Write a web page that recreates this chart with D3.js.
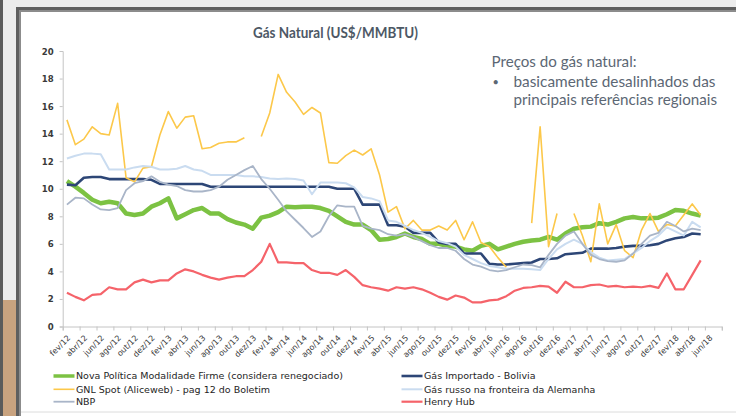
<!DOCTYPE html>
<html>
<head>
<meta charset="utf-8">
<script src="https://cdn.jsdelivr.net/npm/d3@7"></script>
<style>
  body { margin: 0; background: #ececec; }
  svg { display: block; }
</style>
</head>
<body>
<script>
const width = 736;
const height = 416;

// rótulos do eixo x (um a cada dois meses)
const tickLabels = [
    "fev/12", "abr/12", "jun/12", "ago/12", "out/12", "dez/12",
    "fev/13", "abr/13", "jun/13", "ago/13", "out/13", "dez/13",
    "fev/14", "abr/14", "jun/14", "ago/14", "out/14", "dez/14",
    "fev/15", "abr/15", "jun/15", "ago/15", "out/15", "dez/15",
    "fev/16", "abr/16", "jun/16", "ago/16", "out/16", "dez/16",
    "fev/17", "abr/17", "jun/17", "ago/17", "out/17", "dez/17",
    "fev/18", "abr/18", "jun/18"
];
const monthCount = 78; // fev/12 .. jul/18
const yTicks = [0, 2, 4, 6, 8, 10, 12, 14, 16, 18, 20];

// séries mensais a partir de fev/12 (US$/MMBTU)
const novaPolitica = [
    10.55, 10.15, 9.7, 9.2, 8.95, 9.05, 8.95, 8.2, 8.1, 8.2,
    8.7, 8.95, 9.3, 7.85, 8.15, 8.45, 8.6, 8.2, 8.2, 7.8,
    7.55, 7.4, 7.1, 7.9, 8.05, 8.3, 8.7, 8.65, 8.7, 8.7,
    8.6, 8.4, 8.0, 7.6, 7.4, 7.4, 7.0, 6.3, 6.35, 6.5,
    6.75, 6.5, 6.35, 6.0, 6.0, 5.85, 5.8, 5.6, 5.5, 5.85,
    6.0, 5.6, 5.8, 6.0, 6.15, 6.25, 6.3, 6.5, 6.3, 6.75,
    7.1, 7.2, 7.25, 7.5, 7.4, 7.6, 7.85, 7.95, 7.85, 7.85,
    7.9, 8.15, 8.45, 8.4, 8.2, 8.05
];
const gasBolivia = [
    10.3, 10.25, 10.8, 10.85, 10.85, 10.7, 10.7, 10.7, 10.7, 10.7,
    10.65, 10.35, 10.35, 10.35, 10.35, 10.35, 10.35, 10.15, 10.15, 10.15,
    10.15, 10.15, 10.15, 10.15, 10.15, 10.15, 10.15, 10.15, 10.15, 10.15,
    10.15, 10.15, 10.0, 10.0, 10.0, 8.85, 8.85, 8.85, 7.35, 7.35,
    7.25, 6.8, 6.8, 6.8, 6.1, 6.0, 6.0, 5.3, 5.3, 5.3,
    4.55, 4.5, 4.5, 4.55, 4.6, 4.65, 4.9, 4.9, 4.95, 5.25,
    5.3, 5.35, 5.65, 5.65, 5.65, 5.7, 5.8, 5.85, 5.85, 5.9,
    6.0, 6.25, 6.4, 6.5, 6.75, 6.7
];
const gnlSpot = [
    15.0, 13.2, 13.6, 14.5, 14.0, 13.9, 16.2, 10.8, 10.5, 11.5,
    11.6, 13.9, 15.6, 14.4, 15.2, 15.3, 12.9, 13.0, 13.3, 13.4,
    13.4, 13.7, null, 13.8, 15.5, 18.3, 17.0, 16.3, 15.4, 15.9,
    15.5, 11.9, 11.85, 12.4, 12.8, 12.45, 12.9, 11.0, 8.3, 8.7,
    7.1, 7.7, 7.0, 7.0, 7.3, 7.0, 7.7, 6.3, 7.6, 6.1,
    5.8, 5.0, 4.3, null, null, 7.5, 14.5, 5.8, 8.2, null,
    8.2, 6.6, 4.7, 8.9, 6.0, 7.4, 5.5, 5.0, 7.0, 8.2,
    6.9, 7.4, 7.3, 8.1, 8.9, 8.1
];
const gasRusso = [
    12.2, 12.4, 12.55, 12.55, 12.5, 11.4, 11.4, 11.4, 11.55, 11.65,
    11.6, 11.4, 11.4, 11.45, 11.65, 11.4, 11.3, 11.0, 11.0, 11.0,
    11.0, 10.9, 10.9, 10.85, 10.75, 10.7, 10.75, 10.7, 10.6, 9.6,
    10.45, 10.45, 10.45, 10.4, 10.1, 9.4, 9.3, 9.1, 7.7, 7.6,
    7.3, 7.0, 6.8, 6.5, 6.2, 6.05, 5.8, 5.2, 4.9, 4.6,
    4.4, 4.3, 4.2, 4.2, 4.2, 4.15, 4.1, 4.9, 5.6, 6.0,
    6.3, 6.0, 5.4, 5.0, 4.8, 4.85, 4.9, 5.3, 5.7, 6.2,
    6.6, 7.2, 6.9, 6.6, 7.6, 7.2
];
const nbp = [
    8.85, 9.35, 9.3, 8.85, 8.5, 8.45, 8.6, 9.9, 10.4, 10.55,
    10.9, 10.5, 10.3, 10.2, 9.9, 9.8, 9.8, 9.9, 10.15, 10.65,
    11.0, 11.35, 11.65, 10.7, 10.0, 9.2, 8.35, 7.75, 7.15, 6.5,
    6.9, 8.0, 8.8, 8.7, 8.7, 7.3, 7.1, 7.0, 6.7, 6.6,
    6.7, 6.5, 6.2, 5.9, 5.7, 5.7, 5.5, 4.9, 4.5, 4.35,
    4.1, 4.0, 4.1, 4.3, 4.5, 4.45, 4.3, 5.2, 6.0, 6.6,
    6.9, 6.0, 5.2, 4.9, 4.75, 4.7, 4.8, 5.3, 6.0, 6.6,
    6.8, 7.6, 7.3, 6.9, 7.1, 7.0
];
const henryHub = [
    2.45, 2.15, 1.9, 2.3, 2.35, 2.85, 2.7, 2.7, 3.2, 3.4,
    3.2, 3.35, 3.35, 3.85, 4.15, 4.0, 3.75, 3.55, 3.4, 3.55,
    3.65, 3.65, 4.1, 4.7, 6.0, 4.65, 4.65, 4.6, 4.6, 4.1,
    3.9, 3.9, 3.75, 4.1, 3.6, 3.0, 2.85, 2.75, 2.6, 2.85,
    2.75, 2.85, 2.7, 2.45, 2.15, 1.95, 2.25, 2.1, 1.75, 1.75,
    1.9, 1.95, 2.2, 2.6, 2.8, 2.85, 2.95, 2.9, 2.45, 3.25,
    2.85, 2.85, 3.0, 3.05, 2.9, 2.95, 2.85, 2.9, 2.85, 2.95,
    2.8, 3.85, 2.7, 2.7, 3.75, 4.8
];

// ordem do Excel (a última fica por cima)
const series = [
    { name: "Nova Política Modalidade Firme (considera renegociado)", values: novaPolitica, color: "#7cc243", w: 4.5, col: 0, row: 0 },
    { name: "Gás Importado - Bolivia", values: gasBolivia, color: "#2d4676", w: 2.6, col: 1, row: 0 },
    { name: "GNL Spot (Aliceweb) - pag 12 do Boletim", values: gnlSpot, color: "#fcc84a", w: 1.6, col: 0, row: 1 },
    { name: "Gás russo na fronteira da Alemanha", values: gasRusso, color: "#cadcf0", w: 2, col: 1, row: 1 },
    { name: "NBP", values: nbp, color: "#a9b5c8", w: 1.8, col: 0, row: 2 },
    { name: "Henry Hub", values: henryHub, color: "#f5636a", w: 2.2, col: 1, row: 2 }
];

let svg = d3.select("body").append("svg")
    .attr("width", width)
    .attr("height", height)

// moldura do slide / fundo da foto
svg.append("rect").attr("width", width).attr("height", height).attr("fill", "#ececec")
svg.append("rect").attr("x", 0).attr("y", 0).attr("width", 3).attr("height", height).attr("fill", "#5b5b5b")
svg.append("rect").attr("x", 3).attr("y", 300).attr("width", 13).attr("height", 116).attr("fill", "#c9a37f")
svg.append("rect").attr("x", 16).attr("y", 7).attr("width", width - 16).attr("height", height - 7).attr("fill", "#5f5f5f")
svg.append("rect").attr("x", 19).attr("y", 10).attr("width", width - 19).attr("height", height - 10).attr("fill", "#8c8c8c")
svg.append("rect").attr("x", 21).attr("y", 12).attr("width", width - 21).attr("height", height - 12).attr("fill", "#fff")
svg.append("line")
    .attr("x1", 21).attr("x2", width)
    .attr("y1", 412).attr("y2", 412)
    .attr("stroke", "#dcdcdc")

let x = d3.scaleLinear()
    .domain([0, monthCount])
    .range([62.7, 721.8]);

let y = d3.scaleLinear()
    .domain([0, 20])
    .range([326.5, 51]);

// título
svg.append("text")
    .attr("x", 335.5)
    .attr("y", 38)
    .attr("text-anchor", "middle")
    .attr("font-family", "Lato")
    .attr("font-weight", "bold")
    .attr("font-size", 16)
    .attr("fill", "#4d5865")
    .attr("textLength", 165)
    .attr("lengthAdjust", "spacingAndGlyphs")
    .text("Gás Natural (US$/MMBTU)")

// comentário
let note = svg.append("g")
    .attr("font-family", "Lato")
    .attr("font-size", 15)
    .attr("fill", "#5c6774")
note.append("text").attr("x", 491.5).attr("y", 66.5)
    .attr("textLength", 145).attr("lengthAdjust", "spacingAndGlyphs")
    .text("Preços do gás natural:")
note.append("text").attr("x", 492.5).attr("y", 85.5).attr("font-size", 11).text("•")
note.append("text").attr("x", 513.5).attr("y", 86.5)
    .attr("textLength", 202).attr("lengthAdjust", "spacingAndGlyphs")
    .text("basicamente desalinhados das")
note.append("text").attr("x", 513.5).attr("y", 105)
    .attr("textLength", 203.5).attr("lengthAdjust", "spacingAndGlyphs")
    .text("principais referências regionais")

// eixo y
let yAxis = svg.append("g")
    .attr("transform", "translate(" + x(0) + ",0)")
    .call(d3.axisLeft(y).tickValues(yTicks).tickSize(3).tickPadding(6))
yAxis.select(".domain").attr("stroke", "#c4c4c4")
yAxis.selectAll(".tick line").attr("stroke", "#c4c4c4")
yAxis.selectAll(".tick text")
    .attr("font-family", "DejaVu Sans Condensed")
    .attr("font-weight", "bold")
    .attr("font-size", 9.5)
    .attr("fill", "#3a3a3a")

// eixo x
let xAxis = svg.append("g")
    .attr("transform", "translate(0," + y(0) + ")")
    .call(d3.axisBottom(x).tickValues(d3.range(0, monthCount + 1, 2)).tickSize(4).tickFormat(""))
xAxis.select(".domain").attr("stroke", "#c4c4c4")
xAxis.selectAll(".tick line").attr("stroke", "#c4c4c4")

svg.append("g")
    .selectAll("text")
    .data(tickLabels)
    .enter()
    .append("text")
    .attr("transform", (d, i) => "translate(" + (x(i * 2 + 0.5) + 4) + "," + (y(0) + 12) + ")rotate(-45)")
    .attr("text-anchor", "end")
    .attr("font-family", "DejaVu Sans")
    .attr("font-size", 8)
    .attr("fill", "#3a3a3a")
    .text(d => d)

// linhas
let line = d3.line()
    .defined(d => d !== null)
    .x((d, i) => x(i + 0.5))
    .y(d => y(d))

svg.append("g")
    .selectAll("path")
    .data(series)
    .enter()
    .append("path")
    .attr("fill", "none")
    .attr("stroke", d => d.color)
    .attr("stroke-width", d => d.w)
    .attr("stroke-linejoin", "round")
    .attr("d", d => line(d.values))

// legenda
const legendX = [53.5, 401.5];
const legendY = [376, 389.3, 401.7];
let legend = svg.append("g")
    .selectAll("g")
    .data(series)
    .enter()
    .append("g")
    .attr("transform", d => "translate(" + legendX[d.col] + "," + legendY[d.row] + ")")
legend.append("line")
    .attr("x1", 0).attr("x2", 21)
    .attr("stroke", d => d.color)
    .attr("stroke-width", d => Math.min(d.w, 3.5))
legend.append("text")
    .attr("x", 22.5)
    .attr("dy", "0.35em")
    .attr("font-family", "DejaVu Sans")
    .attr("font-size", 9.5)
    .attr("fill", "#1e1e1e")
    .text(d => d.name)
</script>
</body>
</html>
